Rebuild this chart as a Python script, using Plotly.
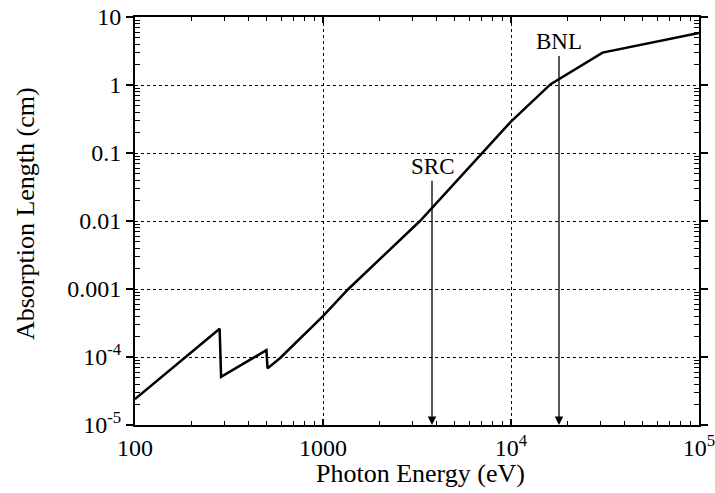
import math
import plotly.graph_objects as go

# Curve data (photon energy in eV, absorption length in cm)
energy = [100, 282, 287, 500, 507, 590, 1000, 1365, 3280, 7060, 10000, 16250, 30700, 100000]
length = [2.4e-5, 2.6e-4, 5.1e-5, 1.26e-4, 6.8e-5, 9.6e-5, 4.0e-4, 1.0e-3, 1.0e-2, 0.1, 0.29, 1.03, 3.0, 5.8]

# Marker arrows (label centre height in cm)
marker_labels = ["SRC", "BNL"]
marker_energy = [3800, 18000]
marker_label_y = [0.063, 4.3]

x_tickvals = [100, 1000, 1e4, 1e5]
x_ticktext = ["100", "1000", "10<sup>4</sup>", "10<sup>5</sup>"]
y_tickvals = [1e-5, 1e-4, 1e-3, 1e-2, 0.1, 1, 10]
y_ticktext = ["10<sup>-5</sup>", "10<sup>-4</sup>", "0.001", "0.01", "0.1", "1", "10"]

x_title = "Photon Energy (eV)"
y_title = "Absorption Length (cm)"

FONT = "Liberation Serif"

def minors(lo_exp, hi_exp):
    out = []
    for e in range(lo_exp, hi_exp):
        for m in range(2, 10):
            out.append(m * 10 ** e)
    return out

fig = go.Figure()
fig.add_trace(go.Scatter(x=energy, y=length, mode="lines",
                         line=dict(color="black", width=2.5), showlegend=False))

for lab, e, ly in zip(marker_labels, marker_energy, marker_label_y):
    fig.add_annotation(x=math.log10(e), y=-5, ax=math.log10(e), ay=math.log10(ly),
                       xref="x", yref="y", axref="x", ayref="y", text=lab,
                       showarrow=True, arrowhead=2, arrowsize=1.3, arrowwidth=1.3,
                       arrowcolor="black", standoff=0, startstandoff=0,
                       font=dict(family=FONT, size=23, color="black"))

# axis titles
fig.add_annotation(x=0.506, y=-0.119, xref="paper", yref="paper", text=x_title,
                   showarrow=False, xanchor="center", yanchor="middle",
                   font=dict(family=FONT, size=26, color="black"))
fig.add_annotation(x=-0.195, y=0.517, xref="paper", yref="paper", text=y_title,
                   showarrow=False, xanchor="center", yanchor="middle", textangle=-90,
                   font=dict(family=FONT, size=26, color="black"))

axis_common = dict(
    type="log", showline=True, linecolor="black", linewidth=2, mirror="allticks",
    showgrid=True, gridcolor="black", gridwidth=1.3, griddash="dot",
    tickfont=dict(family=FONT, size=24, color="black"),
    zeroline=False, automargin=False, ticklabeloverflow="allow",
)

fig.update_xaxes(
    **axis_common, range=[2, 5], tickmode="array", tickvals=x_tickvals, ticktext=x_ticktext,
    ticks="inside", ticklen=6, tickwidth=1.5, tickcolor="black",
    minor=dict(tickmode="array", tickvals=minors(2, 5), ticks="inside", ticklen=4,
               tickwidth=1.2, tickcolor="black", showgrid=False),
)
fig.update_yaxes(
    **axis_common, range=[-5, 1], tickmode="array", tickvals=y_tickvals, ticktext=y_ticktext,
    ticks="outside", ticklen=7, tickwidth=1.5, tickcolor="black",
    minor=dict(tickmode="array", tickvals=minors(-5, 1), ticks="inside", ticklen=5,
               tickwidth=1.2, tickcolor="black", showgrid=False),
)

fig.update_layout(
    width=715, height=493,
    margin=dict(l=135, r=16, t=17, b=68),
    paper_bgcolor="white", plot_bgcolor="white",
    font=dict(family=FONT, color="black"),
)

fig.write_html("out.html", config={"displayModeBar": False})

# remove default page margin so the figure sits at the window's top-left corner
with open("out.html", "r", encoding="utf-8") as f:
    html = f.read()
html = html.replace("<head>", "<head><style>html,body{margin:0;padding:0;overflow:hidden;}</style>", 1)
with open("out.html", "w", encoding="utf-8") as f:
    f.write(html)
